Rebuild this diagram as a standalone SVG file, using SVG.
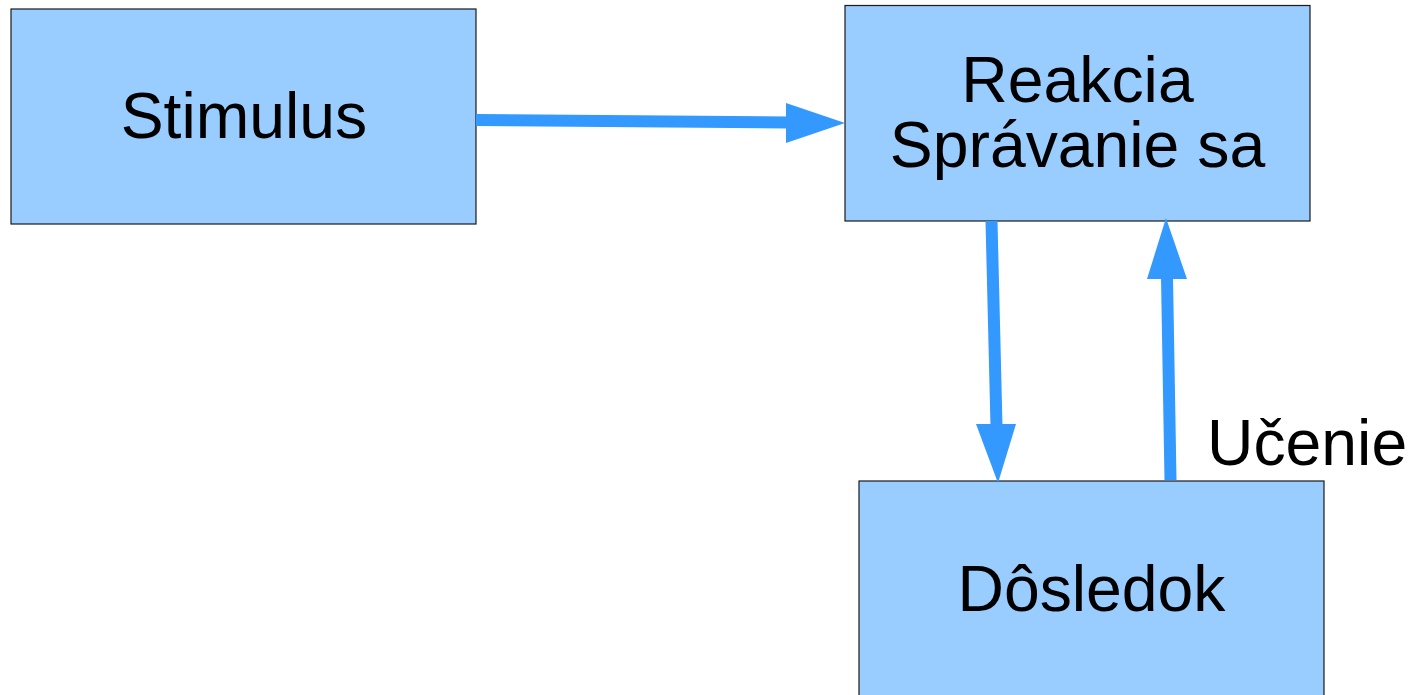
<svg xmlns="http://www.w3.org/2000/svg" width="1410" height="695" viewBox="0 0 1410 695">
<style>
.box{fill:#99ccff;stroke:#1a1a1a;stroke-width:1.2}
.t{font-family:"Liberation Sans",Arial,sans-serif;font-size:64.3px;fill:#000}
.c{text-anchor:middle}
.ln{stroke:#3399ff;stroke-width:12;fill:none}
.hd{fill:#3399ff}
</style>
<rect width="1410" height="695" fill="#fff"/>
<g id="stimulus">
<rect class="box" x="11" y="9" width="465" height="215"/>
<text class="t c" x="244" y="138">Stimulus</text>
</g>
<g id="reakcia">
<rect class="box" x="845" y="5.5" width="465" height="215.5"/>
<text class="t c" x="1077.5" y="102">Reakcia</text>
<text class="t c" x="1077.5" y="167">Správanie sa</text>
</g>
<g id="dosledok">
<rect class="box" x="859" y="481" width="465" height="225"/>
<text class="t c" x="1091.5" y="611">Dôsledok</text>
</g>
<g id="connectors">
<line class="ln" x1="476" y1="120" x2="788" y2="122.5"/>
<polygon class="hd" points="786,103 845,123 786,143"/>
<line class="ln" x1="991.5" y1="221" x2="996.5" y2="426"/>
<polygon class="hd" points="976,424 1016,424 998,483"/>
<line class="ln" x1="1170.5" y1="480" x2="1167" y2="277"/>
<polygon class="hd" points="1147,279 1187,279 1166,218"/>
</g>
<g id="label-ucenie">
<text class="t" x="1207" y="465">Učenie</text>
</g>
</svg>
